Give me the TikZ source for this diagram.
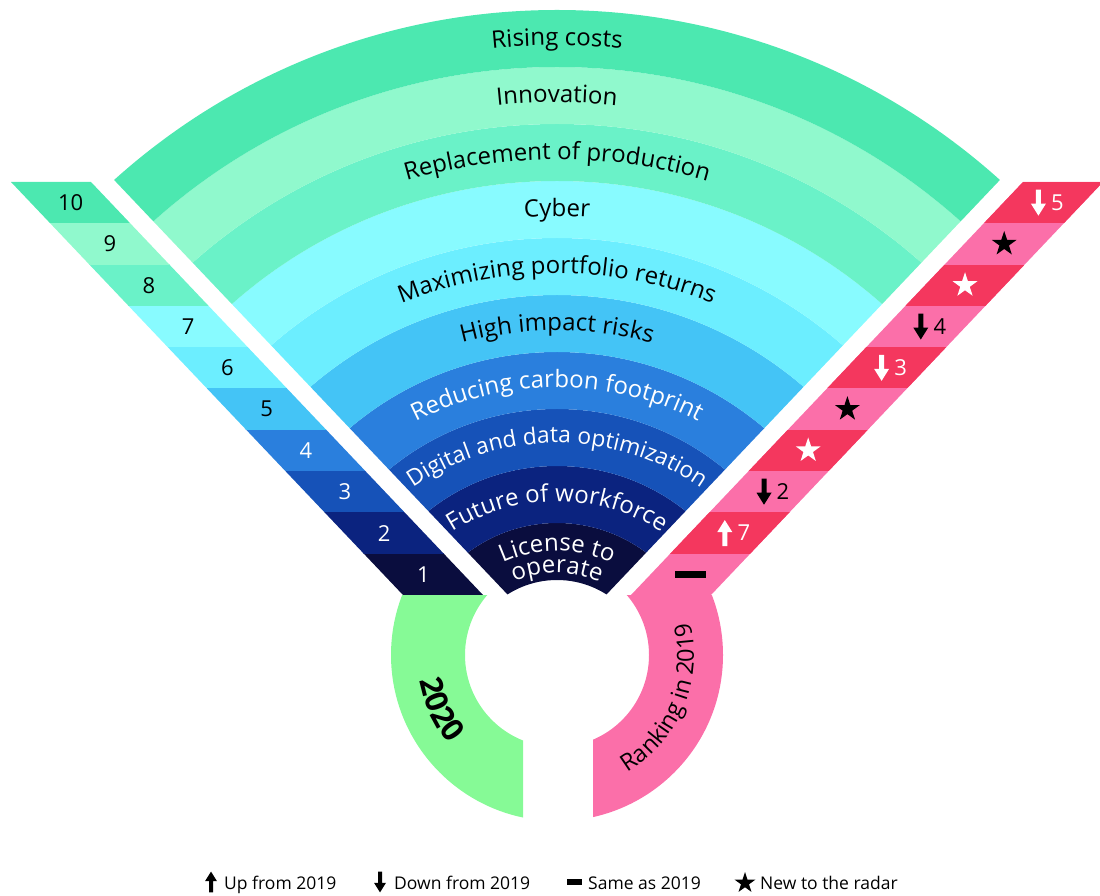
\documentclass[tikz,border=0pt]{standalone}
\usepackage{fontspec}
\setmainfont{Open Sans}
\usetikzlibrary{calc,decorations.text,shapes.geometric}

\definecolor{band1}{HTML}{0A0D3E}
\definecolor{band2}{HTML}{0B237F}
\definecolor{band3}{HTML}{1652B8}
\definecolor{band4}{HTML}{2A7FDD}
\definecolor{band5}{HTML}{44C4F6}
\definecolor{band6}{HTML}{6CEEFF}
\definecolor{band7}{HTML}{88FBFF}
\definecolor{band8}{HTML}{6AF2C8}
\definecolor{band9}{HTML}{90F9CD}
\definecolor{band10}{HTML}{4CE8B0}
\definecolor{rankred}{HTML}{F4375E}
\definecolor{rankpink}{HTML}{FB6FA9}
\definecolor{ringgreen}{HTML}{86FA96}

\newcommand\bandfont{\fontsize{24}{28}\selectfont}
\newcommand\smallbandfont{\fontsize{22.8}{28}\selectfont}
\newcommand\stripfont{\fontsize{22}{26}\selectfont}
\newcommand\legfont{\fontsize{17.5}{21}\selectfont}
\newcommand\ringfont{\fontsize{23.5}{28}\selectfont}
\newcommand\yearfont{\fontsize{31}{36}\selectfont\bfseries}

\tikzset{
  stripnum/.style={font=\stripfont,inner sep=0pt},
  rowstar/.style={star,star points=5,star point ratio=2.6,minimum size=26pt,
                  inner sep=0pt},
  samebar/.style={rectangle,minimum width=31pt,minimum height=7pt,inner sep=0pt},
  legtext/.style={font=\legfont,anchor=base west,inner sep=0pt},
  bandlabel/.style={decorate,decoration={text along path,text align=center,
                    text color=#1}},
  dnarrow/.pic={\fill (-2.5,13) -- (2.5,13) -- (2.5,-1) -- (7.5,-1) -- (0,-13)
                 -- (-7.5,-1) -- (-2.5,-1) -- cycle;},
  uparrow/.pic={\fill (-2.5,-13) -- (2.5,-13) -- (2.5,1) -- (7.5,1) -- (0,13)
                 -- (-7.5,1) -- (-2.5,1) -- cycle;}
}

\begin{document}
\begin{tikzpicture}[x=1pt,y=1pt]
  \useasboundingbox (0,0) rectangle (1100,895);
  \coordinate (C) at (557,223);
  \coordinate (Ct) at (557,198);
  \coordinate (Cl) at (557,213);
  \coordinate (R0) at (557,240);

  % Ten risk bands, cut to the wedge.
  \begin{scope}
    \clip (557,248.4) -- (-119.2,960.8) -- (1233.2,960.8) -- cycle;
    \foreach \k in {1,...,10}{
      \pgfmathsetmacro\bandout{92+57*\k}
      \pgfmathsetmacro\bandin{35+57*\k}
      \fill[band\k,even odd rule] (C) circle[radius=\bandout pt]
        (C) circle[radius=\bandin pt];
    }
  \end{scope}

  % labels sit on slightly flatter arcs than the bands
  \path[bandlabel=black,decoration={text={|\bandfont|Rising costs}}]
    (Ct) ++(160:651.5pt) arc[start angle=160,end angle=20,radius=651.5pt];
  \path[bandlabel=black,decoration={text={|\bandfont|Innovation}}]
    (Ct) ++(160:594.5pt) arc[start angle=160,end angle=20,radius=594.5pt];
  \path[bandlabel=black,decoration={text={|\bandfont|Replacement of production}}]
    (Ct) ++(160:537.5pt) arc[start angle=160,end angle=20,radius=537.5pt];
  \path[bandlabel=black,decoration={text={|\bandfont|Cyber}}]
    (Ct) ++(160:480.5pt) arc[start angle=160,end angle=20,radius=480.5pt];
  \path[bandlabel=black,decoration={text={|\bandfont|Maximizing portfolio returns}}]
    (Ct) ++(160:423.5pt) arc[start angle=160,end angle=20,radius=423.5pt];
  \path[bandlabel=black,decoration={text={|\bandfont|High impact risks}}]
    (Ct) ++(160:366.5pt) arc[start angle=160,end angle=20,radius=366.5pt];
  \path[bandlabel=white,decoration={text={|\bandfont|Reducing carbon footprint}}]
    (Ct) ++(160:309.5pt) arc[start angle=160,end angle=20,radius=309.5pt];
  \path[bandlabel=white,decoration={text={|\smallbandfont|Digital and data optimization}}]
    (Ct) ++(160:254pt) arc[start angle=160,end angle=20,radius=254pt];
  \path[bandlabel=white,decoration={text={|\bandfont|Future of workforce}}]
    (Ct) ++(160:195.5pt) arc[start angle=160,end angle=20,radius=195.5pt];
  \path[bandlabel=white,decoration={text={|\bandfont|License to}}]
    (Cl) ++(160:131pt) arc[start angle=160,end angle=20,radius=131pt];
  \path[bandlabel=white,decoration={text={|\bandfont|operate}}]
    (Cl) ++(160:109pt) arc[start angle=160,end angle=20,radius=109pt];

  % 2020 ranking strip on the left
  \begin{scope}
    \clip (403,300) -- (483,300) -- (91,713) -- (11,713) -- cycle;
    \foreach \i in {1,...,10}
      \fill[band\i] (0,{300+41.3*(\i-1)}) rectangle (600,{300.5+41.3*\i});
  \end{scope}

  % 2019 ranking strip on the right
  \begin{scope}
    \clip (631,300) -- (711,300) -- (1103,713) -- (1023,713) -- cycle;
    \fill[rankpink] (600,290) rectangle (1110,720);
    \foreach \i in {2,4,...,10}
      \fill[rankred] (600,{300+41.3*(\i-1)}) rectangle (1110,{300+41.3*\i});
  \end{scope}

  \foreach \i in {1,...,10}{
    \coordinate (l\i) at ($(443,300)!{(\i-0.5)/10}!(51,713)$);
    \coordinate (r\i) at ($(671,300)!{(\i-0.5)/10}!(1063,713)$);
  }
  \foreach \i/\c in {1/white,2/white,3/white,4/white,5/black,6/black,7/black,
                     8/black,9/black,10/black}
    \node[stripnum,text=\c] (num\i) at (l\i) {\i};

  \pic[white] at ($(r10)+(-5,0)$) {dnarrow};
  \node[stripnum,text=white] (rk10) at ($(r10)+(14,0)$) {5};
  \node[rowstar,fill=black] (rk9) at (r9) {};
  \node[rowstar,fill=white] (rk8) at (r8) {};
  \pic[black] at ($(r7)+(-5,0)$) {dnarrow};
  \node[stripnum,text=black] (rk7) at ($(r7)+(14,0)$) {4};
  \pic[white] at ($(r6)+(-5,0)$) {dnarrow};
  \node[stripnum,text=white] (rk6) at ($(r6)+(14,0)$) {3};
  \node[rowstar,fill=black] (rk5) at (r5) {};
  \node[rowstar,fill=white] (rk4) at (r4) {};
  \pic[black] at ($(r3)+(-5,0)$) {dnarrow};
  \node[stripnum,text=black] (rk3) at ($(r3)+(14,0)$) {2};
  \pic[white] at ($(r2)+(-5,0)$) {uparrow};
  \node[stripnum,text=white] (rk2) at ($(r2)+(14,0)$) {7};
  \node[samebar,fill=black] (rk1) at (r1) {};

  % Ring under the fan
  \begin{scope}
    \clip (0,0) rectangle (523,300);
    \fill[ringgreen,even odd rule] (R0) circle[radius=166pt] (R0) circle[radius=92pt];
  \end{scope}
  \begin{scope}
    \clip (593,0) rectangle (1100,300);
    \fill[rankpink,even odd rule] (R0) circle[radius=166pt] (R0) circle[radius=92pt];
  \end{scope}
  \path[decorate,decoration={text along path,text align=center,
        text={|\yearfont|2020}}]
    (R0) ++(165:140pt) arc[start angle=165,end angle=245,radius=140pt];
  \path[decorate,decoration={text along path,text align=center,
        text={|\ringfont|Ranking in 2019}}]
    (R0) ++(-72:137pt) arc[start angle=-72,end angle=27,radius=137pt];

  % Legend
  \pic[black,scale=.8] at (211,13) {uparrow};
  \node[legtext] (legup) at (224,6) {Up from 2019};
  \pic[black,scale=.8] at (380,13) {dnarrow};
  \node[legtext] (legdown) at (394,6) {Down from 2019};
  \node[samebar,fill=black,minimum width=15pt,minimum height=6pt] (legbar) at (574,13) {};
  \node[legtext] (legsame) at (588,6) {Same as 2019};
  \node[rowstar,fill=black,minimum size=22pt] (legstar) at (745,12) {};
  \node[legtext] (legnew) at (760,6) {New to the radar};
\end{tikzpicture}
\end{document}
